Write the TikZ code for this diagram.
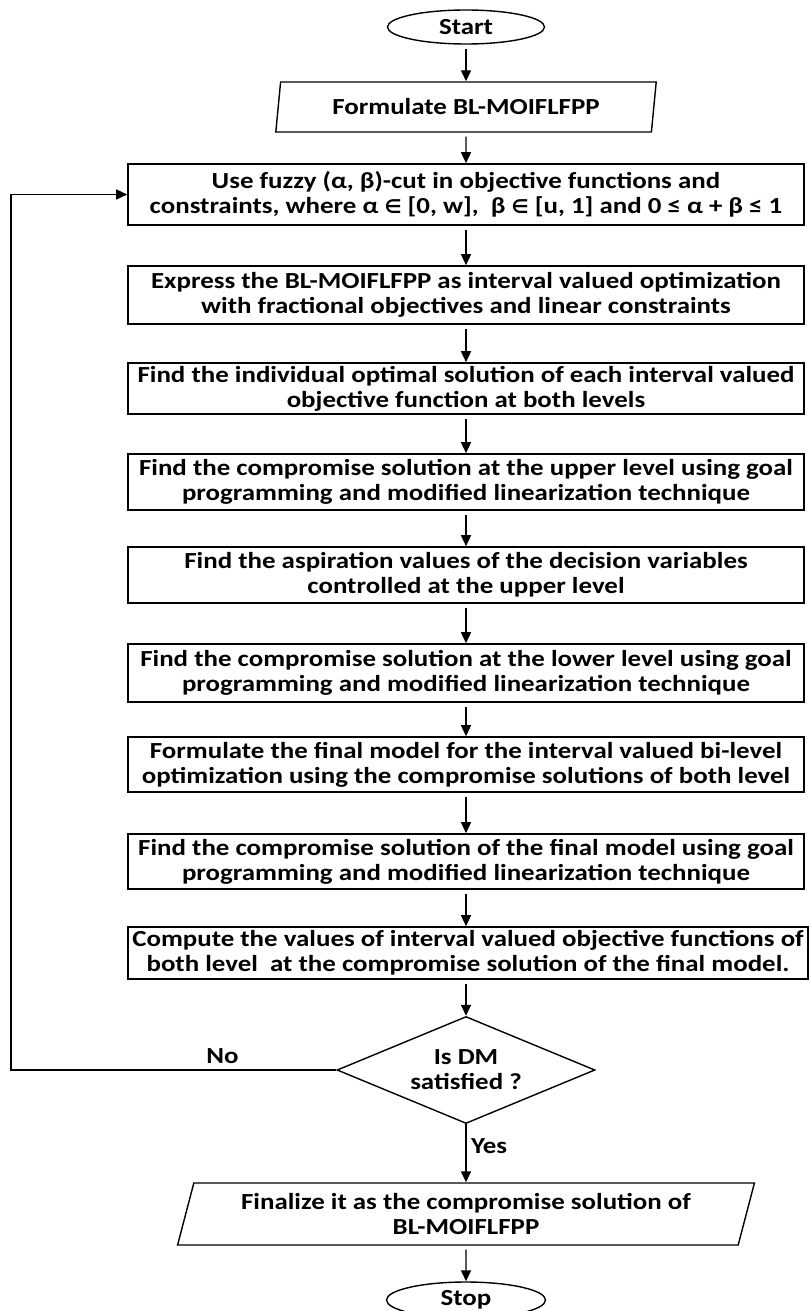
\documentclass[tikz,border=0pt]{standalone}
\usepackage{fontspec}
\setmainfont{Carlito}[FakeStretch=1.17]
\newfontfamily\simbolo{DejaVu Sans}
\usepackage{tikz}
\usetikzlibrary{arrows.meta, positioning, shapes.geometric}

\begin{document}
\begin{tikzpicture}[x=1pt, y=-1pt,
    font=\bfseries\fontsize{23}{25}\selectfont,
    caja/.style={draw, line width=1.6pt, minimum width=676pt, inner sep=0pt, align=center},
    terminal/.style={draw, ellipse, line width=1.4pt, minimum width=157pt, minimum height=34pt, inner sep=0pt},
    datos/.style={draw, trapezium, trapezium left angle=78, trapezium right angle=102, trapezium stretches=true, line width=1.4pt, inner sep=0pt, align=center},
    decision/.style={draw, diamond, aspect=2.4, minimum width=258pt, minimum height=107pt, inner sep=0pt, line width=1.4pt, align=center},
    flecha/.style={-{Triangle[length=11pt, width=10pt]}, line width=1.4pt, shorten <=4pt}]

    \useasboundingbox (0,0) rectangle (810,1311);

    % Inicio y datos
    \node[terminal] (inicio) at (466,27) {Start};
    \node[datos, minimum width=382pt, minimum height=50pt] (formular) at (466,107) {Formulate BL-MOIFLFPP};

    % Pasos
    \node[caja, minimum height=61pt] (corte) at (466,194.5) {Use fuzzy (α, β)-cut in objective functions and\\ constraints, where α {\simbolo\bfseries\fontsize{19}{25}\selectfont ∈} [0, w],\ \ β {\simbolo\bfseries\fontsize{19}{25}\selectfont ∈} [u, 1] and 0 ≤ α + β ≤ 1};
    \node[caja, minimum height=58pt] (intervalo) at (466,295) {Express the BL-MOIFLFPP as interval valued optimization\\ with fractional objectives and linear constraints};
    \node[caja, minimum height=51pt] (individual) at (466,388.5) {Find the individual optimal solution of each interval valued\\ objective function at both levels};
    \node[caja, minimum height=56pt] (superior) at (466,482) {Find the compromise solution at the upper level using goal\\ programming and modified linearization technique};
    \node[caja, minimum height=56pt] (aspiracion) at (466,575) {Find the aspiration values of the decision variables\\ controlled at the upper level};
    \node[caja, minimum height=58pt] (inferior) at (466,673) {Find the compromise solution at the lower level using goal\\ programming and modified linearization technique};
    \node[caja, minimum height=55pt] (modelo) at (466,764.5) {Formulate the final model for the interval valued bi-level\\ optimization using the compromise solutions of both level};
    \node[caja, minimum height=55pt] (compromiso) at (466,861.5) {Find the compromise solution of the final model using goal\\ programming and modified linearization technique};
    \node[caja, minimum height=52pt, minimum width=680pt] (valores) at (468,953) {Compute the values of interval valued objective functions of\\ both level\ \ at the compromise solution of the final model.};

    % Decision y salida
    \node[decision] (dm) at (466,1070) {Is DM\\ satisfied ?};
    \node[datos, minimum width=579pt, minimum height=62pt, trapezium left angle=72, trapezium right angle=108] (final) at (466,1214) {Finalize it as the compromise solution of\\ BL-MOIFLFPP};
    \node[terminal, minimum width=159pt, minimum height=36pt] (fin) at (466,1300) {Stop};

    % Flechas
    \draw[flecha] (inicio) -- (formular);
    \draw[flecha] (formular) -- (corte);
    \draw[flecha] (corte) -- (intervalo);
    \draw[flecha] (intervalo) -- (individual);
    \draw[flecha] (individual) -- (superior);
    \draw[flecha] (superior) -- (aspiracion);
    \draw[flecha] (aspiracion) -- (inferior);
    \draw[flecha] (inferior) -- (modelo);
    \draw[flecha] (modelo) -- (compromiso);
    \draw[flecha] (compromiso) -- (valores.north -| compromiso);
    \draw[flecha] (valores.south -| dm) -- (dm);
    \draw[flecha, shorten <=0pt] (dm) -- node[right=1pt, pos=0.38] {Yes} (final);
    \draw[flecha] (final) -- (fin);

    % Regreso
    \coordinate (retorno) at (11,600);
    \draw[flecha, shorten <=0pt] (dm.west) -- node[pos=0.35, above=2pt] {No} (dm.west -| retorno) |- (corte.west);
\end{tikzpicture}
\end{document}
